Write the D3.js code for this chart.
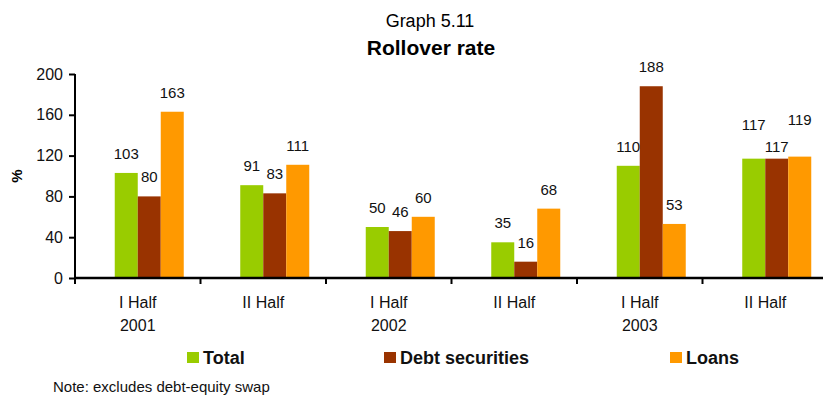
<!DOCTYPE html>
<html>
<head>
<meta charset="utf-8">
<script src="https://cdn.jsdelivr.net/npm/d3@7"></script>
<style>
  html, body { margin: 0; padding: 0; background: #fff; }
  svg { display: block; font-family: "Liberation Sans", Arial, sans-serif; }
</style>
</head>
<body>
<svg id="chart" width="823" height="396"></svg>
<script>
// Half-year periods on the x axis
const halves = ["I Half", "II Half", "I Half", "II Half", "I Half", "II Half"];
const years  = ["2001", "", "2002", "", "2003", ""];

// Series (rollover rate, %)
const seriesNames = ["Total", "Debt securities", "Loans"];
const total = [103, 91, 50, 35, 110, 117];
const debtSecurities = [80, 83, 46, 16, 188, 117];
const loans = [163, 111, 60, 68, 53, 119];
const seriesValues = [total, debtSecurities, loans];

const yTicks = [0, 40, 80, 120, 160, 200];

const colors = ["#99CC00", "#993300", "#FF9900"];

const svg = d3.select("#chart");

// Plot frame
const plotLeft = 75, plotRight = 828, plotTop = 74, plotBottom = 278;

const x = d3.scaleBand()
  .domain(d3.range(halves.length))
  .range([plotLeft, plotRight])
  .padding(0);

const y = d3.scaleLinear().domain([0, 200]).range([plotBottom, plotTop]);

// Bars of a group sit from 23px left of the period centre to 46px right of it
const barW = 23;
const sub = d3.scaleBand()
  .domain(d3.range(seriesNames.length))
  .range([-barW, 2 * barW])
  .padding(0);

// Titles
svg.append("text")
  .attr("x", 430).attr("y", 27)
  .attr("text-anchor", "middle")
  .attr("font-size", 18)
  .text("Graph 5.11");
svg.append("text")
  .attr("x", 431).attr("y", 55)
  .attr("text-anchor", "middle")
  .attr("font-size", 21)
  .attr("font-weight", "bold")
  .text("Rollover rate");

// Bars
const rows = [];
halves.forEach((h, i) => {
  seriesValues.forEach((vals, s) => rows.push({ i, s, v: vals[i] }));
});

const cx = i => x(i) + x.bandwidth() / 2;

svg.append("g").selectAll("rect")
  .data(rows)
  .join("rect")
  .attr("x", d => cx(d.i) + sub(d.s))
  .attr("y", d => y(d.v))
  .attr("width", sub.bandwidth())
  .attr("height", d => y(0) - y(d.v))
  .attr("fill", d => colors[d.s]);

// Value labels; the crowded last group gets its labels staggered
const nudge = { "5-0": -15, "5-1": 7, "5-2": -17.5 };
svg.append("g").selectAll("text")
  .data(rows)
  .join("text")
  .attr("x", d => cx(d.i) + sub(d.s) + sub.bandwidth() / 2)
  .attr("y", d => y(d.v) - 14 + (nudge[d.i + "-" + d.s] || 0))
  .attr("text-anchor", "middle")
  .attr("font-size", 15)
  .attr("fill", "#111")
  .text(d => d.v);

// Y axis
const yAxis = svg.append("g")
  .attr("transform", `translate(${plotLeft},0)`)
  .call(d3.axisLeft(y).tickValues(yTicks).tickSize(6).tickPadding(6));
yAxis.select(".domain").attr("stroke", "#000").attr("stroke-width", 2)
  .attr("d", `M0,${plotBottom + 6}V${plotTop}`);
yAxis.selectAll(".tick line").attr("stroke", "#000").attr("stroke-width", 2);
yAxis.selectAll(".tick text")
  .attr("font-size", 16)
  .attr("font-family", "Liberation Sans, Arial, sans-serif")
  .attr("fill", "#111");

svg.append("text")
  .attr("transform", "translate(21.5,176) rotate(-90)")
  .attr("text-anchor", "middle")
  .attr("font-size", 15)
  .attr("font-weight", "bold")
  .text("%");

// X axis line and boundary ticks
const xg = svg.append("g");
xg.append("line")
  .attr("x1", plotLeft - 1).attr("x2", plotRight)
  .attr("y1", plotBottom).attr("y2", plotBottom)
  .attr("stroke", "#000").attr("stroke-width", 2.5);
xg.selectAll("line.tick")
  .data(d3.range(halves.length + 1))
  .join("line")
  .attr("class", "tick")
  .attr("x1", i => plotLeft + i * x.step()).attr("x2", i => plotLeft + i * x.step())
  .attr("y1", plotBottom).attr("y2", plotBottom + 6)
  .attr("stroke", "#000").attr("stroke-width", 2);

// Period labels
const lab = xg.selectAll("g.lab")
  .data(d3.range(halves.length))
  .join("g").attr("class", "lab");
lab.append("text")
  .attr("x", i => cx(i)).attr("y", 308)
  .attr("text-anchor", "middle").attr("font-size", 16).attr("fill", "#111")
  .text(i => halves[i]);
lab.append("text")
  .attr("x", i => cx(i)).attr("y", 331)
  .attr("text-anchor", "middle").attr("font-size", 16).attr("fill", "#111")
  .text(i => years[i]);

// Legend
const legendX = [187, 384, 670];
const leg = svg.append("g").selectAll("g")
  .data(seriesNames)
  .join("g")
  .attr("transform", (d, i) => `translate(${legendX[i]},352)`);
leg.append("rect")
  .attr("width", 12).attr("height", 11)
  .attr("fill", (d, i) => colors[i]);
leg.append("text")
  .attr("x", 16).attr("y", 12)
  .attr("font-size", 18).attr("font-weight", "bold").attr("fill", "#111")
  .text(d => d);

// Footnote
svg.append("text")
  .attr("x", 53).attr("y", 392)
  .attr("font-size", 15).attr("fill", "#111")
  .text("Note: excludes debt-equity swap");
</script>
</body>
</html>
